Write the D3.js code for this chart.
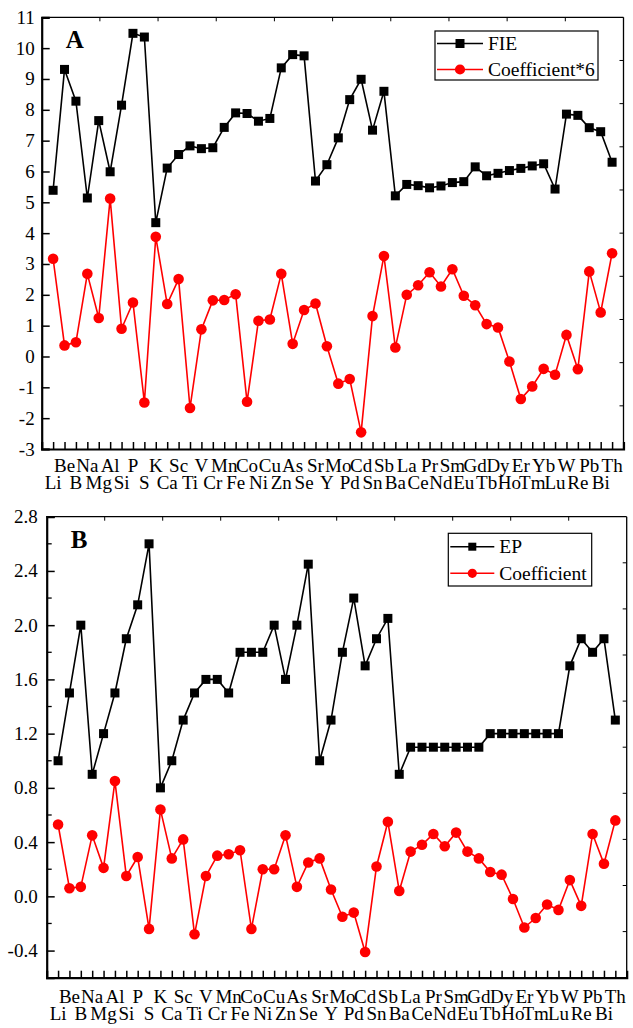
<!DOCTYPE html>
<html>
<head>
<meta charset="utf-8">
<script src="https://cdnjs.cloudflare.com/ajax/libs/d3/7.8.5/d3.min.js"></script>
</head>
<body style="margin:0">
<svg id="chart" width="633" height="1028"></svg>
<script>
// elements along the x axis
var elements = ["Li","Be","B","Na","Mg","Al","Si","P","S","K","Ca","Sc","Ti","V","Cr","Mn","Fe","Co","Ni","Cu",
    "Zn","As","Se","Sr","Y","Mo","Pd","Cd","Sn","Sb","Ba","La","Ce","Pr","Nd","Sm","Eu","Gd","Tb","Dy",
    "Ho","Er","Tm","Yb","Lu","W","Re","Pb","Bi","Th"];

// panel A
var fie = [5.39,9.31,8.28,5.14,7.65,5.99,8.15,10.48,10.36,4.34,6.11,6.55,6.83,6.74,6.77,7.43,7.90,7.88,7.63,7.72,
    9.36,9.79,9.75,5.69,6.22,7.09,8.33,8.99,7.34,8.60,5.21,5.58,5.54,5.47,5.53,5.64,5.67,6.15,5.86,5.94,
    6.03,6.10,6.18,6.25,5.43,7.86,7.82,7.42,7.29,6.30];
var coef6 = [3.17,0.36,0.46,2.68,1.25,5.12,0.90,1.75,-1.49,3.88,1.70,2.51,-1.67,0.88,1.82,1.83,2.02,-1.47,1.16,1.20,
    2.68,0.41,1.51,1.72,0.33,-0.88,-0.73,-2.46,1.31,3.26,0.29,2.00,2.31,2.73,2.27,2.83,1.97,1.66,1.05,0.94,
    -0.16,-1.38,-0.97,-0.40,-0.59,0.70,-0.41,2.76,1.43,3.35];
var ticksA = ["-3","-2","-1","0","1","2","3","4","5","6","7","8","9","10","11"];

// panel B
var ep = [1.0,1.5,2.0,0.9,1.2,1.5,1.9,2.15,2.6,0.8,1.0,1.3,1.5,1.6,1.6,1.5,1.8,1.8,1.8,2.0,
    1.6,2.0,2.45,1.0,1.3,1.8,2.2,1.7,1.9,2.05,0.9,1.1,1.1,1.1,1.1,1.1,1.1,1.1,1.2,1.2,
    1.2,1.2,1.2,1.2,1.2,1.7,1.9,1.8,1.9,1.3];
var coef = [0.53,0.06,0.07,0.45,0.21,0.85,0.15,0.29,-0.24,0.64,0.28,0.42,-0.28,0.15,0.30,0.31,0.34,-0.24,0.20,0.20,
    0.45,0.07,0.25,0.28,0.05,-0.15,-0.12,-0.41,0.22,0.55,0.04,0.33,0.38,0.46,0.37,0.47,0.33,0.28,0.18,0.16,
    -0.02,-0.23,-0.16,-0.06,-0.10,0.12,-0.07,0.46,0.24,0.56];
var ticksB = ["-0.4","0.0","0.4","0.8","1.2","1.6","2.0","2.4","2.8"];
var minorB = [-0.6,-0.2,0.2,0.6,1.0,1.4,1.8,2.2,2.6];

var svg = d3.select("#chart");

function serif(sel, size) {
    return sel.style("font-family", function() { return "'Liberation Serif', monospace"; })
        .style("font-size", size + "px").attr("fill", "#000");
}

function drawPanel(o) {
    var g = svg.append("g");
    var x = d3.scaleLinear().domain([0, elements.length + 1]).range([o.left, o.right]);
    var y = d3.scaleLinear().domain(o.yDomain).range([o.bottom, o.top]);

    // top and right frame, 10 short inward ticks each
    g.append("line").attr("x1", o.left).attr("x2", o.right).attr("y1", o.top).attr("y2", o.top)
        .attr("stroke", "#000").attr("stroke-width", 1.3);
    g.append("line").attr("x1", o.right).attr("x2", o.right).attr("y1", o.top).attr("y2", o.bottom)
        .attr("stroke", "#000").attr("stroke-width", 1.3);
    var frac = d3.range(1, 10).map(function(d) { return d / 10; });
    g.selectAll(".ttick").data(frac).enter().append("line")
        .attr("x1", function(d) { return o.left + d * (o.right - o.left); })
        .attr("x2", function(d) { return o.left + d * (o.right - o.left); })
        .attr("y1", o.top).attr("y2", o.top + 4)
        .attr("stroke", "#000").attr("stroke-width", 1);
    g.selectAll(".rtick").data(frac).enter().append("line")
        .attr("y1", function(d) { return o.top + d * (o.bottom - o.top); })
        .attr("y2", function(d) { return o.top + d * (o.bottom - o.top); })
        .attr("x1", o.right).attr("x2", o.right - 4)
        .attr("stroke", "#000").attr("stroke-width", 1);

    // left axis
    var yAxis = d3.axisLeft(y).tickValues(o.ticks.map(Number)).tickSize(-8).tickFormat("");
    var ya = g.append("g").attr("transform", "translate(" + o.left + ",0)").call(yAxis);
    ya.select(".domain").attr("stroke-width", 2.2);
    ya.selectAll(".tick line").attr("stroke-width", 1.5);
    serif(g.selectAll(".ylab").data(o.ticks).enter().append("text")
        .attr("x", o.left - o.pad).attr("y", function(d) { return y(+d) + 6.5; })
        .attr("text-anchor", "end")
        .text(function(d) { return d; }), 19);
    if (o.minor) {
        g.selectAll(".mtick").data(o.minor).enter().append("line")
            .attr("x1", o.left).attr("x2", o.left + 5)
            .attr("y1", function(d) { return y(d); }).attr("y2", function(d) { return y(d); })
            .attr("stroke", "#000").attr("stroke-width", 1.3);
    }

    // bottom axis, element names on two staggered rows
    var xAxis = d3.axisBottom(x).tickValues(d3.range(1, elements.length + 1)).tickSize(-7).tickFormat("");
    var xa = g.append("g").attr("transform", "translate(0," + o.bottom + ")").call(xAxis);
    xa.select(".domain").attr("stroke-width", 2.2);
    xa.selectAll(".tick line").attr("stroke-width", 1.5);
    serif(g.selectAll(".xlab").data(elements).enter().append("text")
        .attr("x", function(d, i) { return x(i + 1); })
        .attr("y", function(d, i) { return i % 2 == 1 ? o.row1 : o.row2; })
        .attr("text-anchor", "middle")
        .text(function(d) { return d; }), 19);

    // series
    var line = d3.line().x(function(d, i) { return x(i + 1); }).y(function(d) { return y(d); });
    g.append("path").datum(o.s1).attr("d", line).attr("fill", "none").attr("stroke", "#000").attr("stroke-width", 1.6);
    g.append("path").datum(o.s2).attr("d", line).attr("fill", "none").attr("stroke", "#ff0000").attr("stroke-width", 1.6);
    g.selectAll(".sq").data(o.s1).enter().append("rect")
        .attr("x", function(d, i) { return x(i + 1) - 4.5; })
        .attr("y", function(d) { return y(d) - 4.5; })
        .attr("width", 9).attr("height", 9).attr("fill", "#000");
    g.selectAll(".ci").data(o.s2).enter().append("circle")
        .attr("cx", function(d, i) { return x(i + 1); })
        .attr("cy", function(d) { return y(d); })
        .attr("r", 5.3).attr("fill", "#ff0000");

    // panel letter
    serif(g.append("text").attr("x", o.left + 24).attr("y", o.top + 31), 25)
        .style("font-weight", "bold").text(o.letter);

    // legend
    var L = o.legend;
    g.append("rect").attr("x", L.x).attr("y", L.y).attr("width", L.w).attr("height", L.h)
        .attr("fill", "#fff").attr("stroke", "#000").attr("stroke-width", 1.2);
    var items = [{name: L.names[0], color: "#000", shape: "sq"}, {name: L.names[1], color: "#ff0000", shape: "ci"}];
    items.forEach(function(it, k) {
        var yy = L.y + L.rowY[k];
        g.append("line").attr("x1", L.x + 2).attr("x2", L.x + L.lineW).attr("y1", yy).attr("y2", yy)
            .attr("stroke", it.color).attr("stroke-width", 1.6);
        var cx = L.x + 2 + (L.lineW - 2) / 2;
        if (it.shape == "sq") {
            g.append("rect").attr("x", cx - L.ms / 2).attr("y", yy - L.ms / 2)
                .attr("width", L.ms).attr("height", L.ms).attr("fill", it.color);
        } else {
            g.append("circle").attr("cx", cx).attr("cy", yy).attr("r", L.ms / 2 + 0.6).attr("fill", it.color);
        }
        serif(g.append("text").attr("x", L.x + L.lineW + 5).attr("y", yy + 6.5), 19.5).text(it.name);
    });
}

drawPanel({
    left: 41.7, right: 623.5, top: 17.3, bottom: 449,
    yDomain: [-3, 11], ticks: ticksA, pad: 7,
    s1: fie, s2: coef6, row1: 472, row2: 489, letter: "A",
    legend: {x: 435, y: 31, w: 163, h: 49, lineW: 48, rowY: [12.5, 38.5], ms: 9, names: ["FIE", "Coefficient*6"]}
});

drawPanel({
    left: 46.7, right: 626.7, top: 516.7, bottom: 977.7,
    yDomain: [-0.6, 2.8], ticks: ticksB, minor: minorB, pad: 9,
    s1: ep, s2: coef, row1: 1003, row2: 1020, letter: "B",
    legend: {x: 448.3, y: 533.3, w: 143.4, h: 52.7, lineW: 46, rowY: [13.4, 40], ms: 8, names: ["EP", "Coefficient"]}
});
</script>
</body>
</html>
